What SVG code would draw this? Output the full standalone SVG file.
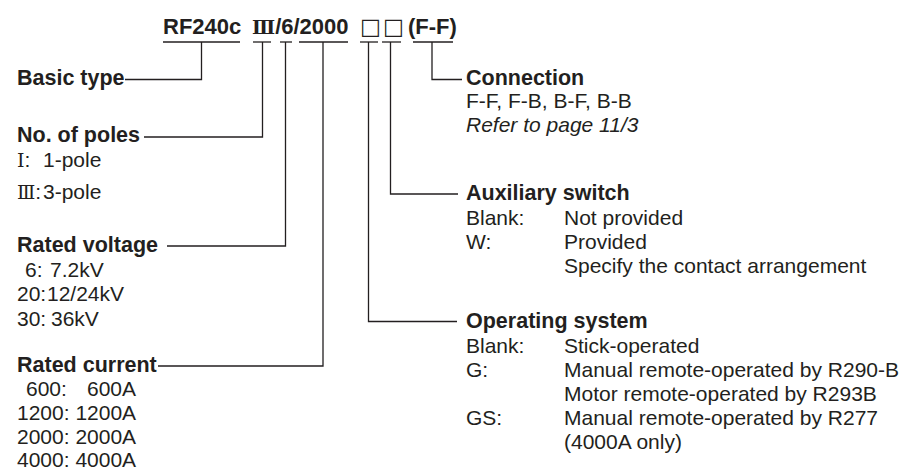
<svg xmlns="http://www.w3.org/2000/svg" width="913" height="471" viewBox="0 0 913 471">
<style>
text{font-family:"Liberation Sans",Arial,sans-serif;font-size:21px;fill:#231f20}
.b{font-weight:bold;font-size:21.5px}
.t{font-weight:bold;font-size:22px}
.i{font-style:italic}
.rn{font-family:"DejaVu Serif","Noto Sans CJK JP",serif}
.box{font-family:"DejaVu Sans","Noto Sans CJK JP",sans-serif;font-weight:normal}
.c line,.c polyline{stroke:#231f20;stroke-width:1.3;fill:none}
</style>
<rect width="913" height="471" fill="#fff"/>
<g id="code">
<text class="t" y="34"><tspan x="163">RF240c</tspan><tspan x="252" class="rn" font-size="19">Ⅲ</tspan><tspan>/6/2000</tspan><tspan x="360" class="box">□</tspan><tspan x="383" class="box">□</tspan><tspan x="408">(F-F)</tspan></text>
</g>
<g class="c" id="connectors">
<line x1="163" y1="42" x2="240" y2="42"/>
<line x1="253" y1="42" x2="271" y2="42"/>
<line x1="280" y1="42" x2="292" y2="42"/>
<line x1="299" y1="42" x2="348" y2="42"/>
<line x1="360" y1="42" x2="378" y2="42"/>
<line x1="382" y1="42" x2="401" y2="42"/>
<line x1="413" y1="42" x2="453" y2="42"/>
<polyline points="201.5,42 201.5,79.5 125,79.5"/>
<polyline points="262.5,42 262.5,137 144,137"/>
<polyline points="285.5,42 285.5,246 167,246"/>
<polyline points="323,42 323,366 158,366"/>
<polyline points="368.5,42 368.5,321.5 457,321.5"/>
<polyline points="390.5,42 390.5,194 458,194"/>
<polyline points="432,42 432,79.5 462,79.5"/>
</g>
<g id="basic-type">
<text class="b" x="17" y="85">Basic type</text>
</g>
<g id="poles">
<text class="b" x="17" y="142">No. of poles</text>
<text y="167"><tspan x="17" class="rn" font-size="19">Ⅰ</tspan><tspan>:</tspan><tspan x="43">1-pole</tspan></text>
<text y="199"><tspan x="17" class="rn" font-size="19">Ⅲ</tspan><tspan>:</tspan><tspan x="43">3-pole</tspan></text>
</g>
<g id="voltage">
<text class="b" x="17" y="252">Rated voltage</text>
<text y="277"><tspan x="25">6:</tspan><tspan x="50">7.2kV</tspan></text>
<text y="301"><tspan x="17">20:</tspan><tspan x="47">12/24kV</tspan></text>
<text y="326"><tspan x="17">30:</tspan><tspan x="51">36kV</tspan></text>
</g>
<g id="current">
<text class="b" x="17" y="372">Rated current</text>
<text y="396"><tspan x="26">600:</tspan><tspan x="87">600A</tspan></text>
<text x="17" y="420">1200: 1200A</text>
<text x="17" y="444">2000: 2000A</text>
<text x="17" y="467">4000: 4000A</text>
</g>
<g id="connection">
<text class="b" x="466" y="85">Connection</text>
<text x="466" y="108">F-F, F-B, B-F, B-B</text>
<text class="i" x="466" y="132">Refer to page 11/3</text>
</g>
<g id="aux-switch">
<text class="b" x="466" y="200">Auxiliary switch</text>
<text y="225"><tspan x="466">Blank:</tspan><tspan x="564">Not provided</tspan></text>
<text y="249"><tspan x="466">W:</tspan><tspan x="564">Provided</tspan></text>
<text x="564" y="273">Specify the contact arrangement</text>
</g>
<g id="operating">
<text class="b" x="466" y="328">Operating system</text>
<text y="353"><tspan x="466">Blank:</tspan><tspan x="564">Stick-operated</tspan></text>
<text y="377"><tspan x="466">G:</tspan><tspan x="564">Manual remote-operated by R290-B</tspan></text>
<text x="564" y="401">Motor remote-operated by R293B</text>
<text y="425"><tspan x="466">GS:</tspan><tspan x="564">Manual remote-operated by R277</tspan></text>
<text x="564" y="449">(4000A only)</text>
</g>
</svg>
